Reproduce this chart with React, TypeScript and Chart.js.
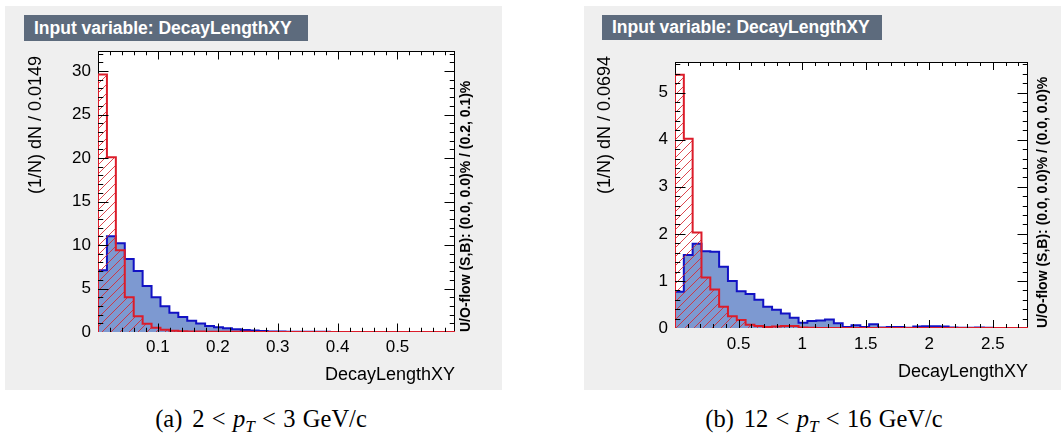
import React, { useEffect, useRef } from "react";
import { Chart, registerables } from "chart.js";

Chart.register(...registerables);

// ---------------- data: panel (a) 2 < pT < 3 GeV/c ----------------
const binWidthA = 0.0149;
const xMinA = 0.0;
const signalA = [
  7.1, 11.0, 10.2, 8.4, 7.0, 5.3, 4.0, 2.95, 2.2, 1.72, 1.28, 0.97, 0.7, 0.55,
  0.42, 0.32, 0.24, 0.17, 0.11, 0.07, 0.05, 0.04, 0.03, 0.03, 0.02, 0.015, 0.01,
  0.01, 0.008, 0.005, 0.005, 0.004, 0.003, 0.002, 0.002, 0.001, 0.001, 0, 0, 0,
];
const backgroundA = [
  29.6, 20.1, 9.4, 4.0, 1.8, 0.96, 0.48, 0.25, 0.15, 0.1, 0.07, 0.05, 0.04,
  0.03, 0.02, 0.02, 0.015, 0.01, 0.01, 0.01, 0.008, 0.006, 0.01, 0.005, 0.005,
  0.003, 0.002, 0.001, 0, 0, 0, 0, 0, 0, 0, 0, 0, 0, 0, 0,
];
const xTicksA = [0.1, 0.2, 0.3, 0.4, 0.5];
const yTicksA = [0, 5, 10, 15, 20, 25, 30];
const yMaxA = 32.3;

// ---------------- data: panel (b) 12 < pT < 16 GeV/c ----------------
const binWidthB = 0.0694;
const xMinB = 0.0;
const signalB = [
  0.77, 1.55, 1.79, 1.63, 1.62, 1.3, 1.0, 0.78, 0.72, 0.6, 0.45, 0.39, 0.31,
  0.22, 0.11, 0.15, 0.16, 0.18, 0.1, 0.02, 0.06, 0.02, 0.08, 0.01, 0.02, 0.02,
  0.005, 0.03, 0.035, 0.035, 0.03, 0.01, 0.005, 0.005, 0.01, 0.005, 0, 0, 0, 0,
];
const backgroundB = [
  5.38, 4.02, 2.03, 1.07, 0.82, 0.45, 0.25, 0.17, 0.07, 0.04, 0.02, 0.03, 0.04,
  0.04, 0.01, 0.005, 0, 0, 0, 0, 0, 0, 0, 0, 0, 0, 0, 0, 0, 0, 0, 0, 0, 0, 0,
  0, 0, 0, 0, 0,
];
const xTicksB = [0.5, 1, 1.5, 2, 2.5];
const yTicksB = [0, 1, 2, 3, 4, 5];
const yMaxB = 5.65;

// ---------------- texts ----------------
const titleText = "Input variable: DecayLengthXY";
const xTitleText = "DecayLengthXY";
const yTitleA = "(1/N) dN / 0.0149";
const yTitleB = "(1/N) dN / 0.0694";
const uoTextA = "U/O-flow (S,B): (0.0, 0.0)% / (0.2, 0.1)%";
const uoTextB = "U/O-flow (S,B): (0.0, 0.0)% / (0.0, 0.0)%";

// ---------------- styles ----------------
const FONT = "'Liberation Sans', Arial, Helvetica, sans-serif";
const SERIF = "'Liberation Serif', 'Times New Roman', serif";
const SIGNAL_LINE = "#1212c4";
const SIGNAL_FILL = "#7d99d1";
const BKG_LINE = "#dc1c2a";
const HATCH = "rgba(214, 40, 48, 0.85)";
const GRAY = "#efefef";
const BOX = "#5d6b7d";

Chart.defaults.font.family = FONT;

type Layout = {
  grayL: number; grayT: number; grayW: number; grayH: number;
  plotL: number; plotT: number; plotR: number; plotB: number;
  boxL: number; boxT: number; boxW: number; boxH: number;
  yTitleX: number; yTitleEnd: number; uoX: number; xTitleY: number;
  captionX: number; captionY: number; xLabelPad: number;
  tickX: number; tickY: number;
};

const layoutA: Layout = {
  grayL: 5, grayT: 6, grayW: 497, grayH: 384,
  plotL: 98, plotT: 51, plotR: 455, plotB: 332,
  boxL: 24, boxT: 15, boxW: 284, boxH: 26,
  yTitleX: 35, yTitleEnd: 56, uoX: 465, xTitleY: 374,
  captionX: 261, captionY: 419, xLabelPad: 5,
  tickX: 8.5, tickY: 10.5,
};
const layoutB: Layout = {
  grayL: 584, grayT: 6, grayW: 477, grayH: 384,
  plotL: 675, plotT: 62, plotR: 1028, plotB: 328,
  boxL: 602, boxT: 15, boxW: 280, boxH: 25,
  yTitleX: 604, yTitleEnd: 56, uoX: 1042, xTitleY: 371,
  captionX: 824, captionY: 419, xLabelPad: 6,
  tickX: 8, tickY: 10.5,
};

function makeHatch(): CanvasPattern | string {
  const s = 9;
  const c = document.createElement("canvas");
  c.width = s;
  c.height = s;
  const g = c.getContext("2d");
  if (!g) return "rgba(0,0,0,0)";
  g.strokeStyle = HATCH;
  g.lineWidth = 1;
  g.beginPath();
  g.moveTo(0, s); g.lineTo(s, 0);
  g.moveTo(-2, 2); g.lineTo(2, -2);
  g.moveTo(s - 2, s + 2); g.lineTo(s + 2, s - 2);
  g.stroke();
  return g.createPattern(c, "repeat") || "rgba(0,0,0,0)";
}

function histPoints(values: number[], xMin: number, width: number) {
  const pts = [{ x: xMin, y: 0 }];
  values.forEach((v, i) => pts.push({ x: xMin + i * width, y: v }));
  pts.push({ x: xMin + values.length * width, y: values[values.length - 1] });
  pts.push({ x: xMin + values.length * width, y: 0 });
  return pts;
}

type PanelProps = {
  L: Layout; sig: number[]; bkg: number[]; xMin: number; binW: number;
  xTicks: number[]; yTicks: number[]; yMax: number; yTitle: string; uoText: string;
  tag: string; lo: string; hi: string;
};

function Panel(props: PanelProps) {
  const { L, sig, bkg, xMin, binW, xTicks, yTicks, yMax, yTitle, uoText, tag, lo, hi } = props;
  const ref = useRef<HTMLCanvasElement>(null);
  const W = L.grayW;
  const H = L.grayH;

  useEffect(() => {
    const canvas = ref.current;
    if (!canvas) return;
    const hatch = makeHatch();
    const padTop = L.plotT - L.grayT;
    const padRight = L.grayL + W - L.plotR;
    const yAxisW = L.plotL - L.grayL;
    const xAxisH = L.grayT + H - L.plotB;
    const xMax = xMin + sig.length * binW;
    const stepX = (xTicks[1] - xTicks[0]) / 5;
    const stepY = (yTicks[1] - yTicks[0]) / 5;

    const rootFrame = {
      id: "rootFrame",
      beforeDatasetsDraw(chart: any) {
        const { ctx, chartArea: a } = chart;
        ctx.save();
        ctx.fillStyle = "#ffffff";
        ctx.fillRect(a.left, a.top, a.right - a.left, a.bottom - a.top);
        ctx.strokeStyle = "#000";
        ctx.lineWidth = 1;
        ctx.strokeRect(a.left + 0.5, a.top + 0.5, a.right - a.left - 1, a.bottom - a.top - 1);
        ctx.restore();
      },
      afterDatasetsDraw(chart: any) {
        const { ctx, chartArea: a, scales } = chart;
        const xs = scales.x;
        const ys = scales.y;
        ctx.save();
        ctx.strokeStyle = "#000";
        ctx.lineWidth = 1;
        ctx.beginPath();
        const k0 = Math.ceil(xMin / stepX - 1e-6);
        for (let k = k0; k * stepX <= xMax + 1e-9; k++) {
          const px = Math.round(xs.getPixelForValue(k * stepX)) + 0.5;
          if (px <= a.left + 1.5 || px >= a.right - 1.5) continue;
          const len = k % 5 === 0 ? L.tickX : L.tickX / 2;
          ctx.moveTo(px, a.bottom); ctx.lineTo(px, a.bottom - len);
          ctx.moveTo(px, a.top); ctx.lineTo(px, a.top + len);
        }
        for (let k = 0; k * stepY <= yMax + 1e-9; k++) {
          const py = Math.round(ys.getPixelForValue(k * stepY)) + 0.5;
          if (py <= a.top + 1.5 || py >= a.bottom - 1.5) continue;
          const len = k % 5 === 0 ? L.tickY : L.tickY / 2;
          ctx.moveTo(a.left, py); ctx.lineTo(a.left + len, py);
          ctx.moveTo(a.right, py); ctx.lineTo(a.right - len, py);
        }
        ctx.stroke();
        ctx.restore();
      },
    };

    const tickFont = { family: FONT, size: 17 };
    const chart = new Chart(canvas, {
      type: "line",
      data: {
        datasets: [
          {
            label: "Background",
            data: histPoints(bkg, xMin, binW),
            stepped: true,
            borderColor: BKG_LINE,
            borderWidth: 2,
            backgroundColor: hatch as any,
            fill: "origin",
            pointRadius: 0,
            order: 0,
          },
          {
            label: "Signal",
            data: histPoints(sig, xMin, binW),
            stepped: true,
            borderColor: SIGNAL_LINE,
            borderWidth: 2,
            backgroundColor: SIGNAL_FILL,
            fill: "origin",
            pointRadius: 0,
            order: 1,
          },
        ],
      },
      options: {
        responsive: false,
        animation: false,
        devicePixelRatio: 1,
        events: [],
        layout: { padding: { top: padTop, right: padRight, left: 0, bottom: 0 } },
        plugins: {
          legend: { display: false },
          tooltip: { enabled: false },
          title: { display: false },
        },
        scales: {
          x: {
            type: "linear",
            min: xMin,
            max: xMax,
            grid: { display: false, drawTicks: false },
            border: { display: false },
            ticks: {
              font: tickFont,
              color: "#000",
              padding: L.xLabelPad,
              autoSkip: false,
              maxRotation: 0,
              callback: (v: any) => String(v),
            },
            afterBuildTicks: (s: any) => {
              s.ticks = xTicks.map((value) => ({ value }));
            },
            afterFit: (s: any) => {
              s.height = xAxisH;
            },
          },
          y: {
            type: "linear",
            min: 0,
            max: yMax,
            grid: { display: false, drawTicks: false },
            border: { display: false },
            ticks: {
              font: tickFont,
              color: "#000",
              padding: 7,
              autoSkip: false,
              callback: (v: any) => String(v),
            },
            afterBuildTicks: (s: any) => {
              s.ticks = yTicks.map((value) => ({ value }));
            },
            afterFit: (s: any) => {
              s.width = yAxisW;
            },
          },
        },
      } as any,
      plugins: [rootFrame],
    });
    return () => chart.destroy();
  }, []);

  const lh = 20;
  const lhUo = 16;
  const wBox = 300;
  return (
    <>
      <canvas
        ref={ref}
        width={W}
        height={H}
        style={{ position: "absolute", left: L.grayL, top: L.grayT, width: W, height: H, background: GRAY }}
      />
      <div
        style={{
          position: "absolute", left: L.boxL, top: L.boxT, width: L.boxW, height: L.boxH,
          background: BOX, color: "#ffffff", fontFamily: FONT, fontWeight: "bold", fontSize: 17.5,
          lineHeight: `${L.boxH}px`, paddingLeft: 10, boxSizing: "border-box", whiteSpace: "nowrap",
        }}
      >
        {titleText}
      </div>
      <div
        style={{
          position: "absolute", left: L.yTitleX - lh / 2, top: L.yTitleEnd + wBox, width: wBox, height: lh,
          lineHeight: `${lh}px`, textAlign: "right", transform: "rotate(-90deg)", transformOrigin: "0 0",
          fontFamily: FONT, fontSize: 18, whiteSpace: "nowrap", color: "#000",
        }}
      >
        {yTitle}
      </div>
      <div
        style={{
          position: "absolute", left: L.uoX - lhUo / 2, top: L.plotB, height: lhUo,
          lineHeight: `${lhUo}px`, textAlign: "left", transform: "rotate(-90deg)", transformOrigin: "0 0",
          fontFamily: FONT, fontWeight: "bold", fontSize: 14, whiteSpace: "nowrap", color: "#000",
        }}
      >
        {uoText}
      </div>
      <div
        style={{
          position: "absolute", left: L.plotR - 300, top: L.xTitleY - 11, width: 300, height: 22,
          lineHeight: "22px", textAlign: "right", fontFamily: FONT, fontSize: 18, color: "#000", whiteSpace: "nowrap",
        }}
      >
        {xTitleText}
      </div>
      <div
        style={{
          position: "absolute", left: L.captionX - 200, top: L.captionY - 14, width: 400, height: 28,
          lineHeight: "28px", textAlign: "center", fontFamily: SERIF, fontSize: 24.5, color: "#000", whiteSpace: "nowrap",
        }}
      >
        ({tag})<span style={{ marginLeft: "0.4em" }}>{lo}</span>
        <span style={{ margin: "0 0.3em" }}>&lt;</span>
        <i>p</i>
        <span style={{ fontSize: "0.7em", fontStyle: "italic", position: "relative", top: "0.3em" }}>T</span>
        <span style={{ margin: "0 0.3em" }}>&lt;</span>
        {hi}
        <span style={{ marginLeft: "0.3em" }}>GeV/c</span>
      </div>
    </>
  );
}

export default function App() {
  return (
    <div style={{ position: "absolute", left: 0, top: 0, width: 1061, height: 438, background: "#fff", overflow: "hidden" }}>
      <Panel
        L={layoutA} sig={signalA} bkg={backgroundA} xMin={xMinA} binW={binWidthA}
        xTicks={xTicksA} yTicks={yTicksA} yMax={yMaxA} yTitle={yTitleA} uoText={uoTextA}
        tag="a" lo="2" hi="3"
      />
      <Panel
        L={layoutB} sig={signalB} bkg={backgroundB} xMin={xMinB} binW={binWidthB}
        xTicks={xTicksB} yTicks={yTicksB} yMax={yMaxB} yTitle={yTitleB} uoText={uoTextB}
        tag="b" lo="12" hi="16"
      />
    </div>
  );
}
